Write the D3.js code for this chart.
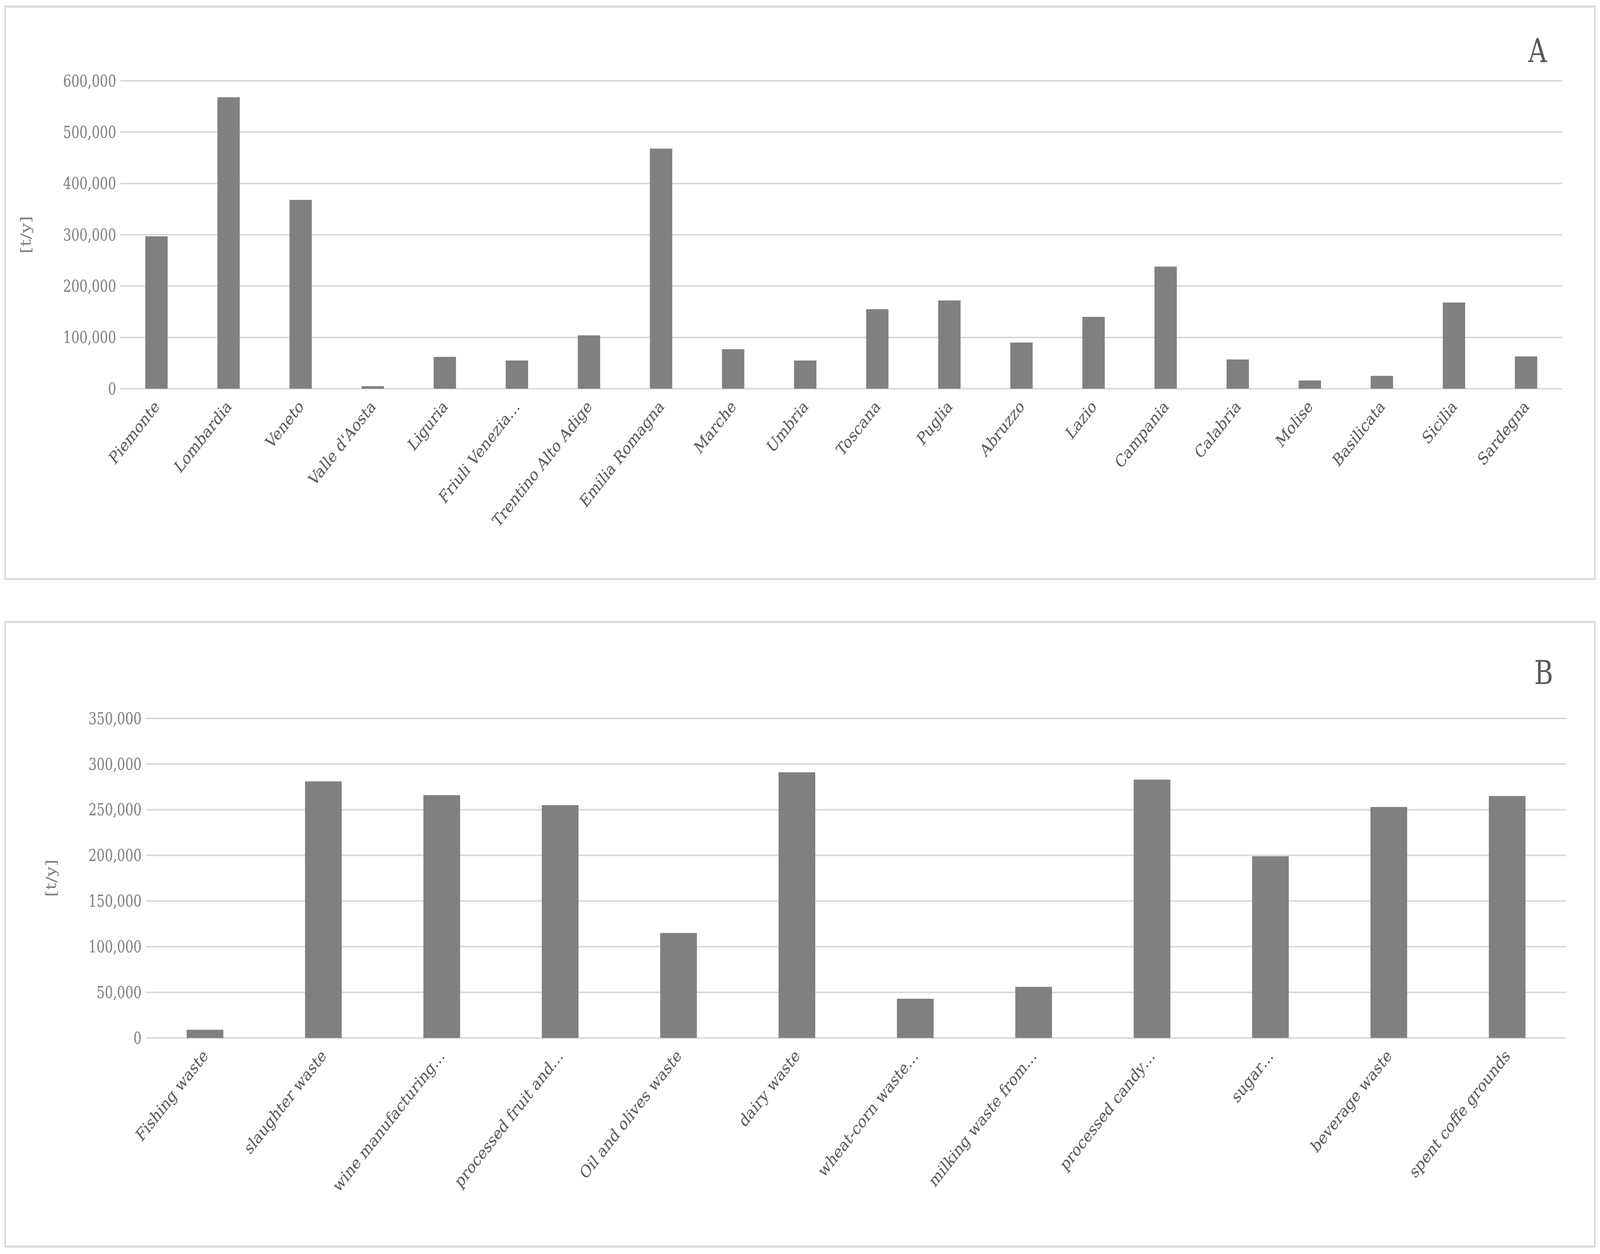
<!DOCTYPE html>
<html>
<head>
<meta charset="utf-8">
<script src="https://cdn.jsdelivr.net/npm/d3@7"></script>
<style>
  html, body { margin: 0; padding: 0; background: #fff; overflow: hidden; }
  svg { display: block; width: 100vw; height: 100vh; }
  text { font-family: "DejaVu Serif", "Liberation Serif", serif; }
</style>
</head>
<body>
<div id="chart"></div>
<script>
// panel A: regions
var regions = ["Piemonte", "Lombardia", "Veneto", "Valle d'Aosta", "Liguria", "Friuli Venezia…",
  "Trentino Alto Adige", "Emilia Romagna", "Marche", "Umbria", "Toscana", "Puglia", "Abruzzo",
  "Lazio", "Campania", "Calabria", "Molise", "Basilicata", "Sicilia", "Sardegna"];
var regionValues = [297000, 568000, 368000, 5000, 62000, 55000, 104000, 468000, 77000, 55000,
  155000, 172000, 90000, 140000, 238000, 57000, 16000, 25000, 168000, 63000];
var regionTicks = [0, 100000, 200000, 300000, 400000, 500000, 600000];

// panel B: waste types
var wastes = ["Fishing waste", "slaughter waste", "wine manufacturing…", "processed fruit and…",
  "Oil and olives waste", "dairy waste", "wheat-corn waste…", "milking waste from…",
  "processed candy…", "sugar…", "beverage waste", "spent coffe grounds"];
var wasteValues = [9000, 281000, 266000, 255000, 115000, 291000, 43000, 56000, 283000, 199000, 253000, 265000];
var wasteTicks = [0, 50000, 100000, 150000, 200000, 250000, 300000, 350000];

var W = 5234, H = 3210;
var svg = d3.select("#chart").append("svg")
  .attr("viewBox", "0 0 " + W + " " + H)
  .attr("preserveAspectRatio", "none");
var fmt = d3.format(",");

function panel(opt) {
  var g = svg.append("g");
  g.append("rect")
    .attr("x", opt.box[0]).attr("y", opt.box[1])
    .attr("width", opt.box[2]).attr("height", opt.box[3])
    .attr("fill", "none").attr("stroke", "#d9d9d9").attr("stroke-width", 5);

  var x = d3.scaleBand().domain(opt.cats).range([opt.x0, opt.x1]).paddingInner(0.69).paddingOuter(0.345);
  var y = d3.scaleLinear().domain([0, d3.max(opt.ticks)]).range([opt.y0, opt.y1]);

  // gridlines
  g.selectAll(".grid").data(opt.ticks).enter().append("line")
    .attr("x1", opt.x0).attr("x2", opt.x1)
    .attr("y1", d => y(d)).attr("y2", d => y(d))
    .attr("stroke", "#d9d9d9").attr("stroke-width", 4);

  // tick labels
  g.selectAll(".tick").data(opt.ticks).enter().append("text")
    .attr("x", opt.x0 - 14).attr("y", d => y(d))
    .attr("dy", "0.35em").attr("text-anchor", "end")
    .attr("font-size", 42).attr("fill", "#7f7f7f")
    .text(d => fmt(d));

  // bars
  g.selectAll(".bar").data(opt.values).enter().append("rect")
    .attr("x", (d, i) => x(opt.cats[i]))
    .attr("y", d => y(d))
    .attr("width", x.bandwidth())
    .attr("height", d => opt.y0 - y(d))
    .attr("fill", "#808080");

  // category labels
  g.selectAll(".cat").data(opt.cats).enter().append("text")
    .attr("transform", d => "translate(" + (x(d) + x.bandwidth() / 2 + 12) + "," + (opt.y0 + 48) + ") rotate(-45)")
    .attr("text-anchor", "end")
    .attr("font-size", 44).attr("fill", "#595959")
    .text(d => d);

  // axis title
  g.append("text")
    .attr("transform", "translate(" + opt.titleX + "," + (opt.y0 + opt.y1) / 2 + ") rotate(-90)")
    .attr("text-anchor", "middle").attr("dy", "0.35em")
    .attr("font-size", 46).attr("fill", "#7f7f7f")
    .text("[t/y]");

  // panel letter
  g.append("text")
    .attr("x", opt.letter[0]).attr("y", opt.letter[1])
    .attr("text-anchor", "middle").attr("dy", "0.35em")
    .attr("font-size", 84).attr("fill", "#595959")
    .attr("font-family", "Liberation Sans, Arial, sans-serif")
    .text(opt.label);
}

panel({ box: [17, 17, 5200, 1465], cats: regions, values: regionValues, ticks: regionTicks,
  x0: 394, x1: 5110, y0: 995, y1: 207, titleX: 83, letter: [5030, 130], label: "A" });
panel({ box: [17, 1592, 5200, 1599], cats: wastes, values: wasteValues, ticks: wasteTicks,
  x0: 477, x1: 5124, y0: 2657, y1: 1839, titleX: 167, letter: [5050, 1722], label: "B" });
</script>
</body>
</html>
